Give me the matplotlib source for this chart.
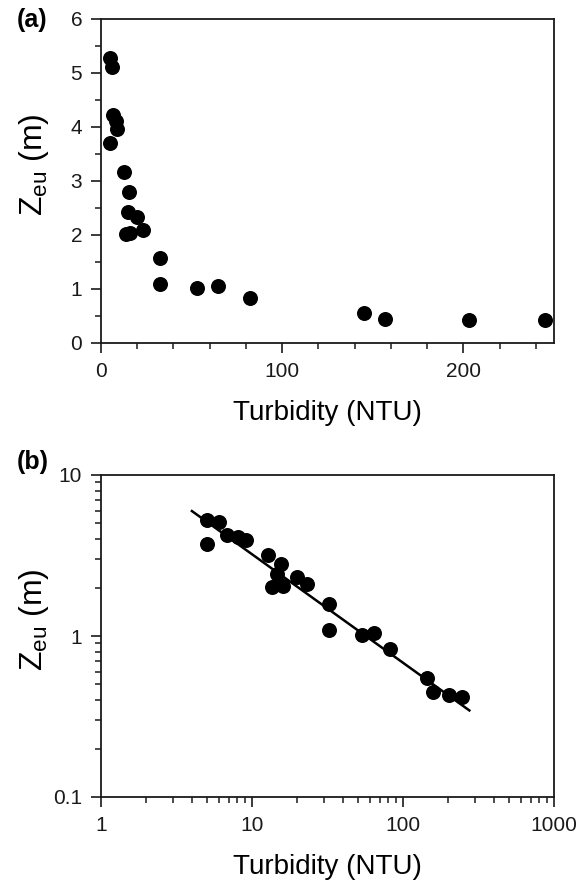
import matplotlib
matplotlib.use("Agg")
import matplotlib.pyplot as plt
import numpy as np
from matplotlib.ticker import MultipleLocator, FixedLocator, LogLocator, NullFormatter, FixedFormatter

plt.rcParams['font.family'] = ['Liberation Sans', 'DejaVu Sans']
plt.rcParams['mathtext.fontset'] = 'custom'
plt.rcParams['mathtext.rm'] = 'Liberation Sans'
plt.rcParams['mathtext.it'] = 'Liberation Sans'

# Data
turbidity = [5.0, 6.0, 6.8, 8.1, 9.1, 5.0, 12.8, 15.5, 14.7, 20.0, 23.0, 13.6, 16.0,
             32.5, 32.5, 53.2, 64.5, 82.0, 145, 157, 203, 245]
zeu = [5.28, 5.12, 4.23, 4.12, 3.97, 3.71, 3.17, 2.79, 2.43, 2.34, 2.09, 2.01, 2.03,
       1.57, 1.09, 1.02, 1.05, 0.83, 0.55, 0.45, 0.43, 0.42]

# Power-law fit line  Zeu = a * T^b
fit_a = 15.2
fit_b = -0.674
fit_range = [4.0, 275.0]

xlabel = 'Turbidity (NTU)'
ylabel = r'$\mathregular{Z_{eu}}$ (m)'

W, H = 580, 881
fig = plt.figure(figsize=(W / 100, H / 100), dpi=100)

left = 101 / W
width = (554 - 101) / W
ax1 = fig.add_axes([left, 1 - 343 / H, width, (343 - 19) / H])
ax2 = fig.add_axes([left, 1 - 797 / H, width, (797 - 475) / H])

spine_col = '#1a1a1a'
tick_fs = 15
xlabel_fs = 20
ylabel_fs = 23

for ax in (ax1, ax2):
    for s in ax.spines.values():
        s.set_linewidth(1.3)
        s.set_color(spine_col)
    ax.tick_params(which='major', direction='out', length=7, width=1.2,
                   labelsize=tick_fs, colors=spine_col, top=False, right=False, pad=6.5)
    ax.tick_params(which='minor', direction='out', length=4.5, width=1.1,
                   colors=spine_col, top=False, right=False)
    ax.plot(turbidity, zeu, 'o', color='black', markersize=10.8, markeredgewidth=0, zorder=3)
    ax.set_xlabel(xlabel, fontsize=xlabel_fs, labelpad=14)
    ax.set_ylabel(ylabel, fontsize=ylabel_fs, va='center')
    ax.yaxis.set_label_coords(-0.148, 0.55)

# Panel (a)
ax1.set_xlim(0, 250)
ax1.set_ylim(0, 6)
ax1.xaxis.set_major_locator(MultipleLocator(100))
ax1.xaxis.set_minor_locator(MultipleLocator(20))
ax1.yaxis.set_major_locator(MultipleLocator(1))
ax1.yaxis.set_minor_locator(MultipleLocator(0.5))

# Panel (b)
ax2.set_xscale('log')
ax2.set_yscale('log')
ax2.set_xlim(1, 1000)
ax2.set_ylim(0.1, 10)
ax2.xaxis.set_major_locator(FixedLocator([1, 10, 100, 1000]))
ax2.xaxis.set_major_formatter(FixedFormatter(['1', '10', '100', '1000']))
ax2.yaxis.set_major_locator(FixedLocator([0.1, 1, 10]))
ax2.yaxis.set_major_formatter(FixedFormatter(['0.1', '1', '10']))
ax2.xaxis.set_minor_locator(LogLocator(base=10, subs=np.arange(2, 10)))
ax2.yaxis.set_minor_locator(LogLocator(base=10, subs=np.arange(2, 10)))
ax2.xaxis.set_minor_formatter(NullFormatter())
ax2.yaxis.set_minor_formatter(NullFormatter())

xf = np.array(fit_range)
ax2.plot(xf, fit_a * xf ** fit_b, color='black', linewidth=1.8, zorder=2)

fig.text(32 / W, 1 - 20 / H, '(a)', fontsize=18, fontweight='bold', ha='center', va='center')
fig.text(33 / W, 1 - 462 / H, '(b)', fontsize=18, fontweight='bold', ha='center', va='center')

fig.savefig('out.png', dpi=100)
